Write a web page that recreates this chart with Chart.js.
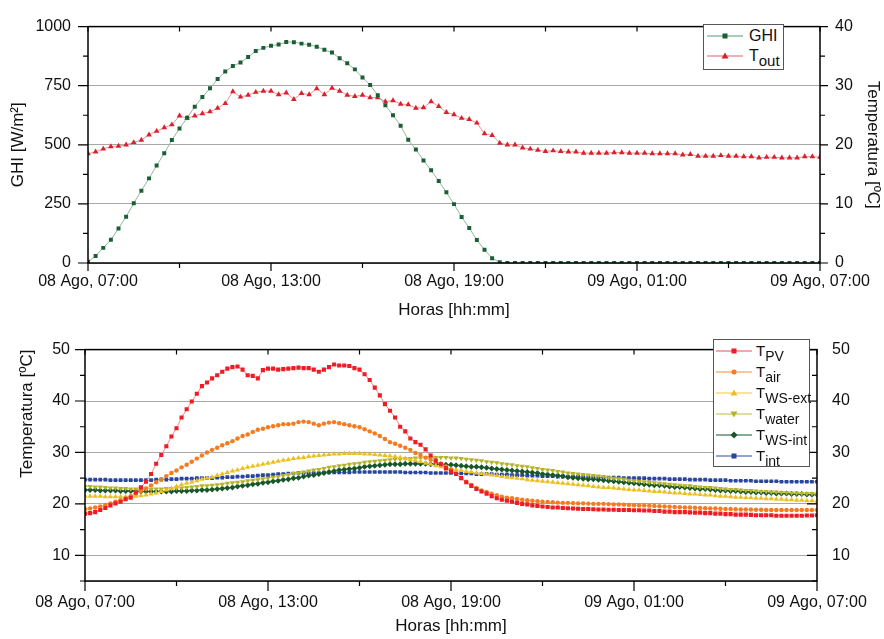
<!DOCTYPE html>
<html>
<head>
<meta charset="utf-8">
<script src="https://cdn.jsdelivr.net/npm/chart.js@4.4.1/dist/chart.umd.min.js"></script>
<style>
  html, body { margin: 0; padding: 0; background: #fff; }
  #wrap { position: relative; width: 884px; height: 639px; overflow: hidden; font-family: 'Liberation Sans', Arial, sans-serif; }
  canvas { position: absolute; left: 0; }
  #topChart { top: 0; }
  #bottomChart { top: 325px; }
  .legend { position: absolute; border: 1px solid #555; background: #fff; box-sizing: border-box; color: #111; }
  .legend .row { display: flex; align-items: center; white-space: nowrap; }
  .legend svg { flex: none; }
  .legend sub { vertical-align: baseline; position: relative; line-height: 0; }
  #legendTop { left: 703px; top: 24px; width: 81px; height: 46px; padding: 1px 0 0 3px; font-size: 16px; }
  #legendTop .row { height: 20px; }
  #legendTop svg { margin-right: 6px; }
  #legendTop sub { font-size: 15px; top: 5px; }
  #legendBottom { left: 713px; top: 339px; width: 97px; height: 128px; padding: 0 0 0 2px; font-size: 15px; }
  #legendBottom .row { height: 21px; }
  #legendBottom svg { margin-right: 4px; }
  #legendBottom sub { font-size: 14px; top: 5px; }
</style>
</head>
<body>
<div id="wrap">
  <canvas id="topChart" width="884" height="325"></canvas>
  <canvas id="bottomChart" width="884" height="314"></canvas>
  <div id="legendTop" class="legend"></div>
  <div id="legendBottom" class="legend"></div>
</div>
<script>
// ---- data (top chart: 15 min steps, bottom chart: 10 min steps, from 08 Ago 07:00) ----
const TICK_LABELS = ['08 Ago, 07:00', '08 Ago, 13:00', '08 Ago, 19:00', '09 Ago, 01:00', '09 Ago, 07:00'];
const TOP_STEP_H = 0.25;
const BOTTOM_STEP_H = 1 / 6;

const GHI = [
  5, 30, 64, 98, 146, 196, 253, 306, 358, 412,
  464, 520, 569, 614, 661, 702, 739, 778, 810, 833,
  848, 871, 897, 910, 919, 924, 935, 934, 928, 923,
  915, 902, 890, 866, 845, 819, 785, 753, 710, 667,
  625, 581, 521, 480, 434, 392, 347, 299, 249, 195,
  148, 97, 56, 20, 3, 0, 0, 0, 0, 0,
  0, 0, 0, 0, 0, 0, 0, 0, 0, 0,
  0, 0, 0, 0, 0, 0, 0, 0, 0, 0,
  0, 0, 0, 0, 0, 0, 0, 0, 0, 0,
  0, 0, 0, 0, 0, 0, 0
];
const T_OUT = [
  18.5, 18.8, 19.3, 19.7, 19.8, 20.0, 20.4, 20.8, 21.7, 22.3,
  22.9, 23.4, 24.9, 24.5, 24.9, 25.3, 25.6, 26.2, 27.0, 29.0,
  28.1, 28.4, 28.9, 29.1, 29.1, 28.5, 28.8, 27.7, 28.7, 28.5,
  29.5, 28.5, 29.6, 29.1, 28.4, 28.2, 28.4, 28.0, 28.0, 27.3,
  27.5, 26.9, 26.8, 26.2, 26.3, 27.3, 26.5, 25.5, 25.1, 24.5,
  24.3, 23.7, 21.9, 21.6, 20.3, 20.0, 20.0, 19.5, 19.3, 19.1,
  18.9, 19.0, 18.9, 18.8, 18.8, 18.6, 18.6, 18.6, 18.6, 18.7,
  18.7, 18.6, 18.6, 18.6, 18.5, 18.5, 18.5, 18.5, 18.3, 18.4,
  18.1, 18.1, 18.1, 18.2, 18.1, 18.1, 18.0, 18.0, 17.8, 17.9,
  17.9, 17.8, 17.8, 17.8, 18.0, 18.0, 17.9
];

const T_PV = [
  18.1, 18.2, 18.4, 18.8, 19.2, 19.7, 20.1, 20.4, 20.9, 21.2,
  22.2, 23.2, 24.3, 25.8, 27.8, 29.5, 31.2, 33.1, 34.7, 36.8,
  38.4, 39.9, 41.4, 42.9, 43.6, 44.4, 45.0, 45.7, 46.3, 46.6,
  46.7, 46.1, 45.0, 44.9, 44.4, 46.0, 46.3, 46.3, 46.1, 46.2,
  46.3, 46.4, 46.5, 46.4, 46.4, 46.1, 45.7, 46.1, 46.6, 47.1,
  46.9, 46.9, 46.8, 46.4, 46.1, 45.2, 44.1, 42.6, 41.1, 39.4,
  38.1, 36.8, 35.0, 34.1, 32.7, 32.0, 31.5, 30.6, 29.4, 28.4,
  27.7, 26.9, 26.3, 25.8, 25.0, 24.2, 23.5, 22.9, 22.4, 22.0,
  21.5, 21.1, 20.8, 20.6, 20.4, 20.2, 20.0, 19.9, 19.7, 19.6,
  19.5, 19.4, 19.3, 19.3, 19.2, 19.15, 19.1, 19.05, 19.0, 19.0,
  18.95, 18.9, 18.9, 18.85, 18.85, 18.8, 18.8, 18.8, 18.75, 18.75,
  18.7, 18.7, 18.6, 18.6, 18.5, 18.5, 18.4, 18.4, 18.4, 18.35,
  18.3, 18.3, 18.2, 18.2, 18.1, 18.1, 18.0, 18.0, 17.9, 17.9,
  17.9, 17.85, 17.8, 17.8, 17.8, 17.8, 17.7, 17.7, 17.7, 17.7,
  17.7, 17.7, 17.75, 17.75, 17.8
];
const T_AIR = [
  19.0, 19.1, 19.3, 19.5, 19.8, 20.1, 20.4, 20.7, 21.1, 21.5,
  22.0, 22.5, 23.0, 23.6, 24.2, 24.8, 25.4, 26.0, 26.5, 27.1,
  27.6, 28.2, 28.8, 29.4, 30.0, 30.5, 30.9, 31.4, 31.8, 32.2,
  32.7, 33.2, 33.5, 34.0, 34.4, 34.6, 34.9, 35.1, 35.3, 35.5,
  35.5, 35.6, 35.9, 36.0, 35.9, 35.6, 35.3, 35.6, 35.8, 35.9,
  35.7, 35.5, 35.3, 35.1, 34.9, 34.5, 34.1, 33.7, 33.2, 32.6,
  32.0, 31.7, 31.3, 30.9, 30.5, 29.9, 29.5, 29.0, 28.6, 28.2,
  27.8, 27.3, 26.7, 25.9, 25.0, 24.3, 23.7, 23.1, 22.6, 22.3,
  22.0, 21.7, 21.4, 21.2, 21.1, 20.95, 20.8, 20.7, 20.6, 20.5,
  20.4, 20.35, 20.3, 20.25, 20.2, 20.2, 20.15, 20.1, 20.1, 20.05,
  20.0, 20.0, 20.0, 19.95, 19.9, 19.9, 19.85, 19.8, 19.75, 19.7,
  19.7, 19.65, 19.6, 19.55, 19.5, 19.45, 19.4, 19.35, 19.3, 19.3,
  19.25, 19.2, 19.15, 19.1, 19.1, 19.05, 19.0, 19.0, 18.95, 18.9,
  18.9, 18.9, 18.85, 18.85, 18.8, 18.8, 18.8, 18.8, 18.8, 18.8,
  18.8, 18.8, 18.8, 18.8, 18.8
];
const T_WS_EXT = [
  21.5, 21.5, 21.5, 21.5, 21.4, 21.4, 21.4, 21.4, 21.4, 21.5,
  21.5, 21.6, 21.7, 21.9, 22.1, 22.4, 22.7, 23.0, 23.4, 23.7,
  24.0, 24.2, 24.5, 24.8, 25.0, 25.2, 25.5, 25.8, 26.1, 26.4,
  26.6, 26.9, 27.1, 27.3, 27.5, 27.7, 27.9, 28.1, 28.3, 28.5,
  28.6, 28.8, 28.9, 29.0, 29.2, 29.3, 29.4, 29.5, 29.6, 29.7,
  29.7, 29.8, 29.8, 29.8, 29.8, 29.7, 29.7, 29.6, 29.5, 29.4,
  29.3, 29.2, 29.0, 28.8, 28.6, 28.4, 28.2, 27.9, 27.7, 27.4,
  27.2, 27.0, 26.8, 26.6, 26.5, 26.3, 26.2, 26.0, 25.9, 25.7,
  25.6, 25.5, 25.3, 25.2, 25.1, 25.0, 24.9, 24.7, 24.6, 24.5,
  24.4, 24.3, 24.2, 24.1, 24.0, 23.9, 23.8, 23.7, 23.6, 23.5,
  23.4, 23.3, 23.2, 23.2, 23.1, 23.0, 22.9, 22.8, 22.7, 22.7,
  22.6, 22.5, 22.4, 22.4, 22.3, 22.2, 22.1, 22.1, 22.0, 21.9,
  21.9, 21.8, 21.7, 21.7, 21.6, 21.5, 21.5, 21.4, 21.3, 21.3,
  21.2, 21.2, 21.1, 21.1, 21.0, 21.0, 20.9, 20.9, 20.8, 20.8,
  20.7, 20.7, 20.6, 20.6, 20.5
];
const T_WATER = [
  23.4, 23.4, 23.3, 23.3, 23.2, 23.1, 23.1, 23.0, 23.0, 22.9,
  22.9, 22.9, 22.9, 22.9, 22.9, 22.9, 23.0, 23.0, 23.1, 23.1,
  23.2, 23.3, 23.4, 23.5, 23.5, 23.6, 23.7, 23.8, 24.0, 24.1,
  24.2, 24.3, 24.5, 24.6, 24.7, 24.9, 25.0, 25.2, 25.3, 25.5,
  25.7, 25.9, 26.0, 26.2, 26.4, 26.6, 26.7, 26.9, 27.1, 27.2,
  27.4, 27.5, 27.7, 27.8, 27.9, 28.1, 28.2, 28.3, 28.4, 28.5,
  28.6, 28.7, 28.7, 28.8, 28.8, 28.9, 28.9, 29.0, 29.0, 29.0,
  29.0, 29.0, 28.9, 28.9, 28.8, 28.7, 28.6, 28.5, 28.4, 28.2,
  28.1, 28.0, 27.8, 27.7, 27.6, 27.4, 27.3, 27.2, 27.0, 26.9,
  26.7, 26.6, 26.5, 26.3, 26.2, 26.0, 25.9, 25.8, 25.7, 25.6,
  25.5, 25.4, 25.3, 25.1, 25.0, 24.9, 24.8, 24.6, 24.5, 24.4,
  24.3, 24.2, 24.1, 24.0, 23.9, 23.8, 23.7, 23.6, 23.5, 23.5,
  23.4, 23.3, 23.2, 23.2, 23.1, 23.0, 22.9, 22.8, 22.8, 22.7,
  22.6, 22.6, 22.5, 22.4, 22.4, 22.3, 22.3, 22.2, 22.2, 22.1,
  22.1, 22.0, 22.0, 22.0, 21.9
];
const T_WS_INT = [
  22.7, 22.7, 22.7, 22.6, 22.6, 22.6, 22.6, 22.5, 22.5, 22.5,
  22.5, 22.4, 22.4, 22.4, 22.4, 22.4, 22.4, 22.4, 22.5, 22.5,
  22.5, 22.6, 22.6, 22.7, 22.7, 22.8, 22.9, 23.0, 23.1, 23.2,
  23.4, 23.5, 23.6, 23.8, 23.9, 24.1, 24.2, 24.4, 24.5, 24.7,
  24.8, 25.0, 25.1, 25.3, 25.5, 25.6, 25.8, 26.0, 26.2, 26.4,
  26.6, 26.7, 26.8, 26.9, 27.0, 27.2, 27.3, 27.4, 27.5, 27.6,
  27.7, 27.7, 27.7, 27.8, 27.8, 27.8, 27.8, 27.8, 27.7, 27.7,
  27.7, 27.6, 27.6, 27.5, 27.4, 27.3, 27.2, 27.2, 27.1, 27.0,
  26.9, 26.8, 26.7, 26.6, 26.5, 26.4, 26.3, 26.2, 26.1, 26.0,
  25.8, 25.7, 25.6, 25.5, 25.4, 25.2, 25.1, 25.0, 24.9, 24.8,
  24.8, 24.7, 24.6, 24.5, 24.4, 24.3, 24.2, 24.1, 24.0, 23.9,
  23.8, 23.7, 23.6, 23.6, 23.5, 23.4, 23.3, 23.3, 23.2, 23.1,
  23.0, 22.9, 22.9, 22.8, 22.7, 22.6, 22.6, 22.5, 22.5, 22.4,
  22.3, 22.3, 22.2, 22.2, 22.1, 22.1, 22.0, 22.0, 22.0, 21.9,
  21.9, 21.9, 21.8, 21.8, 21.8
];
const T_INT = [
  24.7, 24.7, 24.7, 24.7, 24.7, 24.6, 24.6, 24.6, 24.6, 24.6,
  24.6, 24.6, 24.6, 24.6, 24.7, 24.7, 24.7, 24.8, 24.8, 24.9,
  24.9, 24.9, 25.0, 25.0, 25.0, 25.0, 25.1, 25.1, 25.2, 25.2,
  25.3, 25.3, 25.4, 25.4, 25.5, 25.6, 25.6, 25.7, 25.8, 25.8,
  25.9, 25.9, 26.0, 26.0, 26.0, 26.0, 26.0, 26.1, 26.1, 26.1,
  26.1, 26.1, 26.1, 26.2, 26.2, 26.2, 26.2, 26.2, 26.2, 26.2,
  26.2, 26.2, 26.2, 26.1, 26.1, 26.1, 26.1, 26.1, 26.0, 26.0,
  26.0, 26.0, 26.0, 25.9, 25.9, 25.9, 25.9, 25.8, 25.8, 25.8,
  25.8, 25.7, 25.7, 25.7, 25.6, 25.6, 25.6, 25.5, 25.5, 25.5,
  25.4, 25.4, 25.4, 25.3, 25.3, 25.3, 25.3, 25.3, 25.2, 25.2,
  25.2, 25.2, 25.1, 25.1, 25.1, 25.1, 25.0, 25.0, 25.0, 25.0,
  25.0, 24.9, 24.9, 24.9, 24.9, 24.8, 24.8, 24.8, 24.8, 24.7,
  24.7, 24.7, 24.7, 24.6, 24.6, 24.6, 24.6, 24.5, 24.5, 24.5,
  24.5, 24.5, 24.4, 24.4, 24.4, 24.4, 24.4, 24.3, 24.3, 24.3,
  24.3, 24.3, 24.3, 24.3, 24.3
];

// ---- helpers ----
const FONT = "'Liberation Sans', Arial, sans-serif";
const TICK_FONT = { family: FONT, size: 16 };
const TITLE_FONT = { family: FONT, size: 17 };
const TEXT = '#111';
const GRID = '#a8a8a8';

const toPoints = (arr, step) => arr.map((v, i) => ({ x: i * step, y: v }));

function series(label, sub, values, step, marker, line, style, radius, rotation) {
  return {
    label, sub,
    data: toPoints(values, step),
    borderColor: line,
    borderWidth: 1,
    pointStyle: style,
    pointRotation: rotation || 0,
    pointRadius: radius,
    pointBackgroundColor: marker,
    pointBorderWidth: 0,
    tension: 0
  };
}

function markerSvg(ds) {
  const c = ds.pointBackgroundColor;
  let shape;
  if (ds.pointStyle === 'rect') shape = `<rect x="15.5" y="2.5" width="5" height="5" fill="${c}"/>`;
  else if (ds.pointStyle === 'circle') shape = `<circle cx="18" cy="5" r="2.5" fill="${c}"/>`;
  else if (ds.pointStyle === 'rectRot') shape = `<path d="M18 1.5L21.5 5L18 8.5L14.5 5Z" fill="${c}"/>`;
  else if (ds.pointRotation === 180) shape = `<path d="M18 8.5L21.5 2.5L14.5 2.5Z" fill="${c}"/>`;
  else shape = `<path d="M18 1.5L21.5 7.5L14.5 7.5Z" fill="${c}"/>`;
  return `<svg width="36" height="10"><line x1="0" y1="5" x2="36" y2="5" stroke="${ds.borderColor}" stroke-width="1.6"/>${shape}</svg>`;
}

// legend with subscripts, built from the datasets
const htmlLegend = {
  id: 'htmlLegend',
  afterUpdate(chart, args, opts) {
    const box = document.getElementById(opts.containerID);
    box.innerHTML = chart.data.datasets.map(ds =>
      `<div class="row">${markerSvg(ds)}<span>${ds.label}${ds.sub ? '<sub>' + ds.sub + '</sub>' : ''}</span></div>`
    ).join('');
  }
};

// closed frame plus major / minor tick marks on every side
const frameTicks = {
  id: 'frameTicks',
  afterDraw(chart, args, opts) {
    const { ctx, chartArea: a } = chart;
    ctx.save();
    ctx.strokeStyle = '#000';
    ctx.lineWidth = 1.5;
    ctx.strokeRect(a.left, a.top, a.right - a.left, a.bottom - a.top);
    ctx.lineWidth = 1.2;
    ctx.beginPath();
    opts.marks.forEach(m => {
      const s = chart.scales[m.scale];
      const n = Math.round((s.max - s.min) / m.minor);
      for (let k = 0; k <= n; k++) {
        const v = s.min + k * m.minor;
        const q = v / m.major;
        const len = (Math.abs(q - Math.round(q)) < 1e-6 ? m.majorLen : m.minorLen) * m.dir;
        const p = s.getPixelForValue(v);
        if (m.side === 'bottom') { ctx.moveTo(p, a.bottom); ctx.lineTo(p, a.bottom + len); }
        if (m.side === 'top') { ctx.moveTo(p, a.top); ctx.lineTo(p, a.top - len); }
        if (m.side === 'left') { ctx.moveTo(a.left, p); ctx.lineTo(a.left - len, p); }
        if (m.side === 'right') { ctx.moveTo(a.right, p); ctx.lineTo(a.right + len, p); }
      }
    });
    ctx.stroke();
    ctx.restore();
  }
};

function xAxis(height, labelPad, titlePad) {
  return {
    type: 'linear', min: 0, max: 24,
    afterFit: s => { s.height = height; },
    ticks: {
      stepSize: 6, padding: labelPad, maxRotation: 0, autoSkip: false,
      font: TICK_FONT, color: TEXT,
      callback: v => TICK_LABELS[Math.round(v / 6)]
    },
    grid: { display: false, drawTicks: false },
    border: { display: false },
    title: { display: true, text: 'Horas [hh:mm]', font: TITLE_FONT, color: TEXT, padding: { top: 0, bottom: titlePad } }
  };
}

// ---- top chart: GHI and outdoor temperature ----
new Chart(document.getElementById('topChart'), {
  type: 'line',
  data: {
    datasets: [
      Object.assign(series('GHI', '', GHI, TOP_STEP_H, '#1b5e35', '#8fbb9d', 'rect', 2.8), { yAxisID: 'y' }),
      Object.assign(series('T', 'out', T_OUT, TOP_STEP_H, '#d9202c', '#ee9399', 'triangle', 3.3), { yAxisID: 'y1' })
    ]
  },
  options: {
    responsive: false, animation: false, devicePixelRatio: 1,
    layout: { padding: { top: 18, left: 0, right: 0, bottom: 0 } },
    plugins: {
      legend: { display: false }, tooltip: { enabled: false },
      htmlLegend: { containerID: 'legendTop' },
      frameTicks: { marks: [
        { scale: 'x', side: 'bottom', minor: 3, major: 6, majorLen: 8, minorLen: 5, dir: 1 },
        { scale: 'x', side: 'top', minor: 3, major: 6, majorLen: 5, minorLen: 5, dir: -1 },
        { scale: 'y', side: 'left', minor: 125, major: 250, majorLen: 10, minorLen: 5, dir: 1 },
        { scale: 'y1', side: 'right', minor: 5, major: 10, majorLen: 8, minorLen: 5, dir: 1 }
      ] }
    },
    scales: {
      x: xAxis(62, 9, 4),
      y: {
        position: 'left', min: 0, max: 1000,
        afterFit: s => { s.width = 88; },
        ticks: { stepSize: 250, padding: 17, font: TICK_FONT, color: TEXT, callback: v => String(v) },
        grid: { color: GRID, lineWidth: 1, drawTicks: false },
        border: { display: false },
        title: { display: true, text: 'GHI [W/m²]', font: TITLE_FONT, color: TEXT, padding: { top: 8, bottom: 0 } }
      },
      y1: {
        position: 'right', min: 0, max: 40,
        afterFit: s => { s.width = 64; },
        ticks: { stepSize: 10, padding: 15, font: TICK_FONT, color: TEXT, callback: v => String(v) },
        grid: { drawOnChartArea: false, drawTicks: false },
        border: { display: false },
        title: { display: true, text: 'Temperatura [ºC]', font: TITLE_FONT, color: TEXT, padding: { top: 1, bottom: 0 } }
      }
    }
  },
  plugins: [htmlLegend, frameTicks]
});

// ---- bottom chart: module and water-storage temperatures ----
const hideFive = v => (v % 10 === 0 ? String(v) : '');
new Chart(document.getElementById('bottomChart'), {
  type: 'line',
  data: {
    datasets: [
      series('T', 'PV', T_PV, BOTTOM_STEP_H, '#ee1c25', '#f4878c', 'rect', 2.9),
      series('T', 'air', T_AIR, BOTTOM_STEP_H, '#f47b20', '#f8b27c', 'circle', 2.2),
      series('T', 'WS-ext', T_WS_EXT, BOTTOM_STEP_H, '#ecc01c', '#f4da7c', 'triangle', 3),
      series('T', 'water', T_WATER, BOTTOM_STEP_H, '#b4b42c', '#d2d27c', 'triangle', 3, 180),
      series('T', 'WS-int', T_WS_INT, BOTTOM_STEP_H, '#17562a', '#5e8f6e', 'rectRot', 3),
      series('T', 'int', T_INT, BOTTOM_STEP_H, '#2a45a0', '#7086c6', 'rect', 2.6)
    ].map((d, i) => Object.assign(d, { yAxisID: 'y', order: i }))
  },
  options: {
    responsive: false, animation: false, devicePixelRatio: 1,
    layout: { padding: { top: 10, left: 0, right: 0, bottom: 0 } },
    plugins: {
      legend: { display: false }, tooltip: { enabled: false },
      htmlLegend: { containerID: 'legendBottom' },
      frameTicks: { marks: [
        { scale: 'x', side: 'bottom', minor: 3, major: 6, majorLen: 10, minorLen: 5, dir: 1 },
        { scale: 'x', side: 'top', minor: 3, major: 6, majorLen: 5, minorLen: 5, dir: -1 },
        { scale: 'y', side: 'left', minor: 5, major: 10, majorLen: 10, minorLen: 5, dir: 1 },
        { scale: 'y1', side: 'right', minor: 5, major: 10, majorLen: 10, minorLen: 5, dir: -1 }
      ] }
    },
    scales: {
      x: xAxis(58, 12, 2),
      y: {
        position: 'left', min: 5, max: 50,
        afterFit: s => { s.width = 85; },
        ticks: { stepSize: 10, padding: 15, font: TICK_FONT, color: TEXT, callback: hideFive },
        grid: { color: GRID, lineWidth: 1, drawTicks: false },
        border: { display: false },
        title: { display: true, text: 'Temperatura [ºC]', align: 'end', font: TITLE_FONT, color: TEXT, padding: { top: 17, bottom: 0 } }
      },
      y1: {
        position: 'right', min: 5, max: 50,
        afterFit: s => { s.width = 67; },
        ticks: { stepSize: 10, padding: 15, font: TICK_FONT, color: TEXT, callback: hideFive },
        grid: { drawOnChartArea: false, drawTicks: false },
        border: { display: false }
      }
    }
  },
  plugins: [htmlLegend, frameTicks]
});
</script>
</body>
</html>
